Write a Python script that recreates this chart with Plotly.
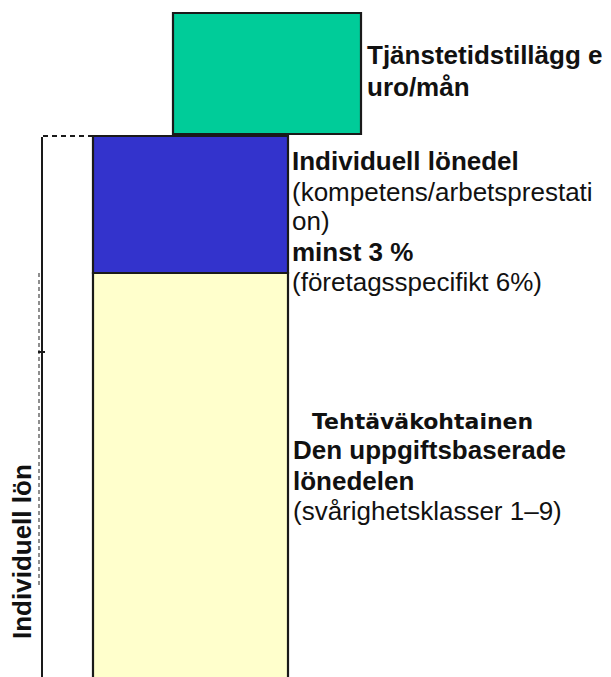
import plotly.graph_objects as go

# ---- data (heights of the salary components, in diagram units) ----
components = ["Den uppgiftsbaserade lönedelen", "Individuell lönedel", "Tjänstetidstillägg"]
heights = [414, 137, 121]
base_start = -10

label_tjanst = ["Tjänstetidstillägg e", "uro/mån"]
label_indiv = [("Individuell lönedel", True), ("(kompetens/arbetsprestati", False), ("on)", False),
               ("minst 3 %", True), ("(företagsspecifikt 6%)", False)]
label_task_fi = "Tehtäväkohtainen"
label_task = [("Den uppgiftsbaserade", True), ("lönedelen", True), ("(svårighetsklasser 1–9)", False)]
side_label = "Individuell lön"

# ---- layout constants ----
W, H = 611, 677
FONT = "Liberation Sans, Arial, sans-serif"
colors = ["#FFFFCC", "#3333CC", "#00CC99"]
main_x, main_w = 190.5, 195
green_x, green_w = 267, 188
edge = "#1a1a1a"

bases = [base_start, base_start + heights[0], base_start + heights[0] + heights[1] + 2]
tops = [b + h for b, h in zip(bases, heights)]

fig = go.Figure()
xs = [main_x, main_x, green_x]
ws = [main_w, main_w, green_w]
for name, h, b, c, x, w in zip(components, heights, bases, colors, xs, ws):
    fig.add_trace(go.Bar(x=[x], y=[h], base=[b], width=[w], name=name,
                         marker=dict(color=c, line=dict(color=edge, width=2.2)),
                         hoverinfo="name"))

# bracket on the left
left_x = 42
fig.add_shape(type="line", x0=left_x + 1, x1=main_x - main_w / 2, y0=tops[1], y1=tops[1],
              line=dict(color=edge, width=2, dash="5px,4px"), layer="above")
fig.add_shape(type="line", x0=left_x, x1=left_x, y0=tops[1] - 1, y1=base_start,
              line=dict(color=edge, width=2), layer="above")
fig.add_shape(type="line", x0=left_x - 3, x1=left_x - 3, y0=tops[0], y1=90,
              line=dict(color="#444444", width=1.2, dash="4px,3px"), layer="above")
fig.add_shape(type="line", x0=left_x - 4, x1=left_x + 3, y0=325, y1=325,
              line=dict(color=edge, width=2), layer="above")

def txt(x, ybase, text, bold, size=26, color="#111111", family=FONT):
    fig.add_annotation(x=x, y=H - ybase + 0.3 * size, xref="x", yref="y", text=text,
                       showarrow=False, xanchor="left", yanchor="middle",
                       font=dict(family=family, size=size, color=color,
                                 weight="bold" if bold else "normal"))

# seniority labels
for i, t in enumerate(label_tjanst):
    txt(365, 63 + i * 32, t, True)

# individual part labels
ind_base = [169, 200, 229, 260, 290]
for (t, b), yb in zip(label_indiv, ind_base):
    txt(290, yb, t, b)

# task-based part labels
txt(310, 428, label_task_fi, True, size=22, family="DejaVu Sans, sans-serif")
task_base = [458, 489, 519]
for (t, b), yb in zip(label_task, task_base):
    txt(291, yb, t, b)

fig.add_annotation(x=22, y=H - 552, xref="x", yref="y", text=side_label, showarrow=False,
                   textangle=-90, xanchor="center", yanchor="middle",
                   font=dict(family=FONT, size=26, color="#111111", weight="bold"))

fig.update_layout(width=W, height=H, margin=dict(l=0, r=0, t=0, b=0),
                  paper_bgcolor="white", plot_bgcolor="white", showlegend=False,
                  barmode="overlay",
                  xaxis=dict(range=[0, W], visible=False, fixedrange=True),
                  yaxis=dict(range=[0, H], visible=False, fixedrange=True))

fig.write_html("out.html", config={"displayModeBar": False},
               post_script="document.body.style.margin='0';document.body.style.overflow='hidden';")
